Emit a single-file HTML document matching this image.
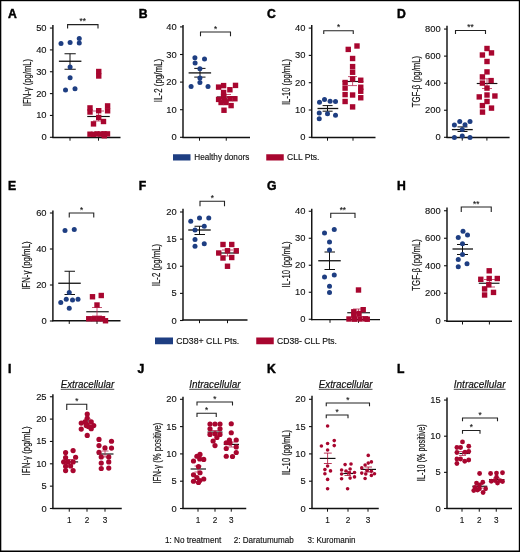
<!DOCTYPE html>
<html><head><meta charset="utf-8"><style>
html,body{margin:0;padding:0;background:#fff;}
body{width:520px;height:552px;overflow:hidden;}
svg{display:block;font-family:"Liberation Sans", sans-serif;will-change:transform;}
</style></head><body>
<svg width="520" height="552" viewBox="0 0 520 552">
<rect x="0" y="0" width="520" height="552" fill="#fff"/>
<line x1="52.9" y1="25" x2="52.9" y2="138.1" stroke="#111111" stroke-width="1.45"/>
<line x1="52.3" y1="137.5" x2="120.5" y2="137.5" stroke="#111111" stroke-width="1.45"/>
<line x1="49.9" y1="137.3" x2="52.9" y2="137.3" stroke="#111111" stroke-width="1.1"/>
<text x="46.6" y="140.3" font-size="9.4" text-anchor="end" font-weight="normal" font-style="normal" fill="#111" stroke="#111" stroke-width="0.12">0</text>
<line x1="49.9" y1="115.45000000000002" x2="52.9" y2="115.45000000000002" stroke="#111111" stroke-width="1.1"/>
<text x="46.6" y="118.45000000000002" font-size="9.4" text-anchor="end" font-weight="normal" font-style="normal" fill="#111" stroke="#111" stroke-width="0.12">10</text>
<line x1="49.9" y1="93.60000000000001" x2="52.9" y2="93.60000000000001" stroke="#111111" stroke-width="1.1"/>
<text x="46.6" y="96.60000000000001" font-size="9.4" text-anchor="end" font-weight="normal" font-style="normal" fill="#111" stroke="#111" stroke-width="0.12">20</text>
<line x1="49.9" y1="71.75000000000001" x2="52.9" y2="71.75000000000001" stroke="#111111" stroke-width="1.1"/>
<text x="46.6" y="74.75000000000001" font-size="9.4" text-anchor="end" font-weight="normal" font-style="normal" fill="#111" stroke="#111" stroke-width="0.12">30</text>
<line x1="49.9" y1="49.900000000000006" x2="52.9" y2="49.900000000000006" stroke="#111111" stroke-width="1.1"/>
<text x="46.6" y="52.900000000000006" font-size="9.4" text-anchor="end" font-weight="normal" font-style="normal" fill="#111" stroke="#111" stroke-width="0.12">40</text>
<line x1="49.9" y1="28.05000000000001" x2="52.9" y2="28.05000000000001" stroke="#111111" stroke-width="1.1"/>
<text x="46.6" y="31.05000000000001" font-size="9.4" text-anchor="end" font-weight="normal" font-style="normal" fill="#111" stroke="#111" stroke-width="0.12">50</text>
<line x1="70" y1="137.5" x2="70" y2="140.7" stroke="#111111" stroke-width="1.0"/>
<line x1="98.5" y1="137.5" x2="98.5" y2="140.7" stroke="#111111" stroke-width="1.0"/>
<text x="0" y="0" font-size="10.4" text-anchor="middle" fill="#111" stroke="#111" stroke-width="0.18" textLength="47.3" lengthAdjust="spacingAndGlyphs" transform="translate(31.3,82.5) rotate(-90)">IFN-γ (pg/mL)</text>
<polyline points="67.6,28.6 67.6,24.6 98,24.6 98,28.6" fill="none" stroke="#222" stroke-width="1.1"/>
<text x="82.8" y="24.1" font-size="8.2" text-anchor="middle" font-weight="normal" font-style="normal" fill="#111" stroke="#111" stroke-width="0.12">**</text>
<line x1="87.25" y1="116.5" x2="109.75" y2="116.5" stroke="#111111" stroke-width="1.15"/>
<line x1="58.9" y1="61.25" x2="81.4" y2="61.25" stroke="#111111" stroke-width="1.3"/>
<line x1="70" y1="53.75" x2="70" y2="69.25" stroke="#111111" stroke-width="1.0"/>
<line x1="64.5" y1="53.75" x2="75.75" y2="53.75" stroke="#111111" stroke-width="1.0"/>
<line x1="64.5" y1="69.25" x2="75.75" y2="69.25" stroke="#111111" stroke-width="1.0"/>
<circle cx="61" cy="43.5" r="2.5" fill="#1e3e82"/>
<circle cx="70.1" cy="42.5" r="2.5" fill="#1e3e82"/>
<circle cx="79.25" cy="38.6" r="2.5" fill="#1e3e82"/>
<circle cx="79.25" cy="43.1" r="2.5" fill="#1e3e82"/>
<circle cx="70.1" cy="67.1" r="2.5" fill="#1e3e82"/>
<circle cx="70.1" cy="77.75" r="2.5" fill="#1e3e82"/>
<circle cx="65.5" cy="90" r="2.5" fill="#1e3e82"/>
<circle cx="75" cy="88.75" r="2.5" fill="#1e3e82"/>
<line x1="98.5" y1="111" x2="98.5" y2="121" stroke="#b52a50" stroke-width="0.8"/>
<line x1="93" y1="111" x2="104" y2="111" stroke="#b52a50" stroke-width="0.8"/>
<line x1="93" y1="121" x2="104" y2="121" stroke="#b52a50" stroke-width="0.8"/>
<g fill="#a8062f"><rect x="96.05" y="68.80" width="5.4" height="5.4"/><rect x="96.05" y="73.30" width="5.4" height="5.4"/><rect x="87.30" y="105.20" width="5.4" height="5.4"/><rect x="87.30" y="109.30" width="5.4" height="5.4"/><rect x="96.00" y="108.00" width="5.4" height="5.4"/><rect x="104.90" y="103.20" width="5.4" height="5.4"/><rect x="104.90" y="108.10" width="5.4" height="5.4"/><rect x="96.00" y="114.80" width="5.4" height="5.4"/><rect x="100.80" y="118.80" width="5.4" height="5.4"/><rect x="90.80" y="121.20" width="5.4" height="5.4"/><rect x="87.30" y="131.50" width="5.4" height="5.4"/><rect x="90.80" y="131.70" width="5.4" height="5.4"/><rect x="94.30" y="131.20" width="5.4" height="5.4"/><rect x="97.80" y="131.40" width="5.4" height="5.4"/><rect x="101.30" y="131.10" width="5.4" height="5.4"/><rect x="104.80" y="131.20" width="5.4" height="5.4"/><rect x="101.60" y="133.10" width="5.4" height="5.4"/></g>
<line x1="183" y1="25" x2="183" y2="138.1" stroke="#111111" stroke-width="1.45"/>
<line x1="182.4" y1="137.5" x2="250" y2="137.5" stroke="#111111" stroke-width="1.45"/>
<line x1="180" y1="137.3" x2="183" y2="137.3" stroke="#111111" stroke-width="1.1"/>
<text x="176.7" y="140.3" font-size="9.4" text-anchor="end" font-weight="normal" font-style="normal" fill="#111" stroke="#111" stroke-width="0.12">0</text>
<line x1="180" y1="109.70000000000002" x2="183" y2="109.70000000000002" stroke="#111111" stroke-width="1.1"/>
<text x="176.7" y="112.70000000000002" font-size="9.4" text-anchor="end" font-weight="normal" font-style="normal" fill="#111" stroke="#111" stroke-width="0.12">10</text>
<line x1="180" y1="82.10000000000002" x2="183" y2="82.10000000000002" stroke="#111111" stroke-width="1.1"/>
<text x="176.7" y="85.10000000000002" font-size="9.4" text-anchor="end" font-weight="normal" font-style="normal" fill="#111" stroke="#111" stroke-width="0.12">20</text>
<line x1="180" y1="54.500000000000014" x2="183" y2="54.500000000000014" stroke="#111111" stroke-width="1.1"/>
<text x="176.7" y="57.500000000000014" font-size="9.4" text-anchor="end" font-weight="normal" font-style="normal" fill="#111" stroke="#111" stroke-width="0.12">30</text>
<line x1="180" y1="26.90000000000002" x2="183" y2="26.90000000000002" stroke="#111111" stroke-width="1.1"/>
<text x="176.7" y="29.90000000000002" font-size="9.4" text-anchor="end" font-weight="normal" font-style="normal" fill="#111" stroke="#111" stroke-width="0.12">40</text>
<line x1="199.5" y1="137.5" x2="199.5" y2="140.7" stroke="#111111" stroke-width="1.0"/>
<line x1="226.25" y1="137.5" x2="226.25" y2="140.7" stroke="#111111" stroke-width="1.0"/>
<text x="0" y="0" font-size="10.4" text-anchor="middle" fill="#111" stroke="#111" stroke-width="0.18" textLength="43.3" lengthAdjust="spacingAndGlyphs" transform="translate(162.05,80.5) rotate(-90)">IL-2 (pg/mL)</text>
<polyline points="200.5,36.3 200.5,32 230.5,32 230.5,36.3" fill="none" stroke="#222" stroke-width="1.1"/>
<text x="215.5" y="31.5" font-size="8.2" text-anchor="middle" font-weight="normal" font-style="normal" fill="#111" stroke="#111" stroke-width="0.12">*</text>
<line x1="217" y1="97" x2="236" y2="97" stroke="#111111" stroke-width="1.15"/>
<line x1="188.6" y1="72.9" x2="211.1" y2="72.9" stroke="#111111" stroke-width="1.3"/>
<line x1="200" y1="68.4" x2="200" y2="77.1" stroke="#111111" stroke-width="1.0"/>
<line x1="194.25" y1="68.4" x2="205.5" y2="68.4" stroke="#111111" stroke-width="1.0"/>
<line x1="194.25" y1="77.1" x2="205.5" y2="77.1" stroke="#111111" stroke-width="1.0"/>
<circle cx="194.9" cy="57.75" r="2.5" fill="#1e3e82"/>
<circle cx="204.5" cy="59" r="2.5" fill="#1e3e82"/>
<circle cx="195.1" cy="62.9" r="2.5" fill="#1e3e82"/>
<circle cx="199.9" cy="68.75" r="2.5" fill="#1e3e82"/>
<circle cx="199.9" cy="78.1" r="2.5" fill="#1e3e82"/>
<circle cx="199.9" cy="82.5" r="2.5" fill="#1e3e82"/>
<circle cx="191.1" cy="86.6" r="2.5" fill="#1e3e82"/>
<circle cx="208" cy="86.6" r="2.5" fill="#1e3e82"/>
<line x1="226" y1="94.5" x2="226" y2="99.5" stroke="#b52a50" stroke-width="0.8"/>
<line x1="221" y1="94.5" x2="231" y2="94.5" stroke="#b52a50" stroke-width="0.8"/>
<line x1="221" y1="99.5" x2="231" y2="99.5" stroke="#b52a50" stroke-width="0.8"/>
<g fill="#a8062f"><rect x="215.90" y="84.40" width="5.4" height="5.4"/><rect x="220.90" y="82.90" width="5.4" height="5.4"/><rect x="232.80" y="82.70" width="5.4" height="5.4"/><rect x="227.20" y="87.05" width="5.4" height="5.4"/><rect x="220.90" y="89.80" width="5.4" height="5.4"/><rect x="220.90" y="93.55" width="5.4" height="5.4"/><rect x="215.90" y="96.70" width="5.4" height="5.4"/><rect x="221.55" y="97.90" width="5.4" height="5.4"/><rect x="227.20" y="96.05" width="5.4" height="5.4"/><rect x="232.20" y="96.05" width="5.4" height="5.4"/><rect x="218.40" y="99.80" width="5.4" height="5.4"/><rect x="223.40" y="99.80" width="5.4" height="5.4"/><rect x="228.40" y="102.90" width="5.4" height="5.4"/><rect x="221.30" y="107.55" width="5.4" height="5.4"/></g>
<line x1="311.75" y1="25" x2="311.75" y2="138.1" stroke="#111111" stroke-width="1.45"/>
<line x1="311.15" y1="137.5" x2="375.5" y2="137.5" stroke="#111111" stroke-width="1.45"/>
<line x1="308.75" y1="137.3" x2="311.75" y2="137.3" stroke="#111111" stroke-width="1.1"/>
<text x="305.45" y="140.3" font-size="9.4" text-anchor="end" font-weight="normal" font-style="normal" fill="#111" stroke="#111" stroke-width="0.12">0</text>
<line x1="308.75" y1="110.00000000000001" x2="311.75" y2="110.00000000000001" stroke="#111111" stroke-width="1.1"/>
<text x="305.45" y="113.00000000000001" font-size="9.4" text-anchor="end" font-weight="normal" font-style="normal" fill="#111" stroke="#111" stroke-width="0.12">10</text>
<line x1="308.75" y1="82.70000000000002" x2="311.75" y2="82.70000000000002" stroke="#111111" stroke-width="1.1"/>
<text x="305.45" y="85.70000000000002" font-size="9.4" text-anchor="end" font-weight="normal" font-style="normal" fill="#111" stroke="#111" stroke-width="0.12">20</text>
<line x1="308.75" y1="55.400000000000006" x2="311.75" y2="55.400000000000006" stroke="#111111" stroke-width="1.1"/>
<text x="305.45" y="58.400000000000006" font-size="9.4" text-anchor="end" font-weight="normal" font-style="normal" fill="#111" stroke="#111" stroke-width="0.12">30</text>
<line x1="308.75" y1="28.10000000000001" x2="311.75" y2="28.10000000000001" stroke="#111111" stroke-width="1.1"/>
<text x="305.45" y="31.10000000000001" font-size="9.4" text-anchor="end" font-weight="normal" font-style="normal" fill="#111" stroke="#111" stroke-width="0.12">40</text>
<line x1="327.5" y1="137.5" x2="327.5" y2="140.7" stroke="#111111" stroke-width="1.0"/>
<line x1="353" y1="137.5" x2="353" y2="140.7" stroke="#111111" stroke-width="1.0"/>
<text x="0" y="0" font-size="10.4" text-anchor="middle" fill="#111" stroke="#111" stroke-width="0.18" textLength="46.05" lengthAdjust="spacingAndGlyphs" transform="translate(290.3,82) rotate(-90)">IL-10 (pg/mL)</text>
<polyline points="323.75,34 323.75,30.75 353.25,30.75 353.25,34" fill="none" stroke="#222" stroke-width="1.1"/>
<text x="338.5" y="30.25" font-size="8.2" text-anchor="middle" font-weight="normal" font-style="normal" fill="#111" stroke="#111" stroke-width="0.12">*</text>
<line x1="342.6" y1="81.5" x2="363.25" y2="81.5" stroke="#111111" stroke-width="1.15"/>
<line x1="317.5" y1="108.5" x2="338.25" y2="108.5" stroke="#111111" stroke-width="1.3"/>
<line x1="327.5" y1="105.6" x2="327.5" y2="111.2" stroke="#111111" stroke-width="1.0"/>
<line x1="322.6" y1="105.6" x2="332.6" y2="105.6" stroke="#111111" stroke-width="1.0"/>
<line x1="322.6" y1="111.2" x2="332.6" y2="111.2" stroke="#111111" stroke-width="1.0"/>
<circle cx="319.5" cy="102.25" r="2.5" fill="#1e3e82"/>
<circle cx="324.5" cy="99.4" r="2.5" fill="#1e3e82"/>
<circle cx="330.1" cy="101.25" r="2.5" fill="#1e3e82"/>
<circle cx="335.5" cy="101.5" r="2.5" fill="#1e3e82"/>
<circle cx="319.25" cy="113" r="2.5" fill="#1e3e82"/>
<circle cx="327.5" cy="113.75" r="2.5" fill="#1e3e82"/>
<circle cx="335.5" cy="115.25" r="2.5" fill="#1e3e82"/>
<circle cx="319.25" cy="118.75" r="2.5" fill="#1e3e82"/>
<line x1="352.6" y1="76.6" x2="352.6" y2="85.6" stroke="#b52a50" stroke-width="0.8"/>
<line x1="348" y1="76.6" x2="357" y2="76.6" stroke="#b52a50" stroke-width="0.8"/>
<line x1="348" y1="85.6" x2="357" y2="85.6" stroke="#b52a50" stroke-width="0.8"/>
<g fill="#a8062f"><rect x="345.55" y="46.70" width="5.4" height="5.4"/><rect x="354.30" y="43.30" width="5.4" height="5.4"/><rect x="349.90" y="55.80" width="5.4" height="5.4"/><rect x="349.90" y="63.90" width="5.4" height="5.4"/><rect x="349.90" y="69.55" width="5.4" height="5.4"/><rect x="349.90" y="76.30" width="5.4" height="5.4"/><rect x="342.40" y="79.80" width="5.4" height="5.4"/><rect x="358.05" y="77.55" width="5.4" height="5.4"/><rect x="342.40" y="85.40" width="5.4" height="5.4"/><rect x="358.05" y="84.55" width="5.4" height="5.4"/><rect x="358.05" y="88.55" width="5.4" height="5.4"/><rect x="342.40" y="91.90" width="5.4" height="5.4"/><rect x="349.90" y="92.30" width="5.4" height="5.4"/><rect x="358.05" y="95.05" width="5.4" height="5.4"/><rect x="342.40" y="98.80" width="5.4" height="5.4"/><rect x="349.90" y="104.20" width="5.4" height="5.4"/></g>
<line x1="447" y1="25.75" x2="447" y2="138.0" stroke="#111111" stroke-width="1.45"/>
<line x1="446.4" y1="137.4" x2="509.6" y2="137.4" stroke="#111111" stroke-width="1.45"/>
<line x1="444" y1="137.3" x2="447" y2="137.3" stroke="#111111" stroke-width="1.1"/>
<text x="440.7" y="140.3" font-size="9.4" text-anchor="end" font-weight="normal" font-style="normal" fill="#111" stroke="#111" stroke-width="0.12">0</text>
<line x1="444" y1="110.24000000000001" x2="447" y2="110.24000000000001" stroke="#111111" stroke-width="1.1"/>
<text x="440.7" y="113.24000000000001" font-size="9.4" text-anchor="end" font-weight="normal" font-style="normal" fill="#111" stroke="#111" stroke-width="0.12">200</text>
<line x1="444" y1="83.18" x2="447" y2="83.18" stroke="#111111" stroke-width="1.1"/>
<text x="440.7" y="86.18" font-size="9.4" text-anchor="end" font-weight="normal" font-style="normal" fill="#111" stroke="#111" stroke-width="0.12">400</text>
<line x1="444" y1="56.120000000000005" x2="447" y2="56.120000000000005" stroke="#111111" stroke-width="1.1"/>
<text x="440.7" y="59.120000000000005" font-size="9.4" text-anchor="end" font-weight="normal" font-style="normal" fill="#111" stroke="#111" stroke-width="0.12">600</text>
<line x1="444" y1="29.060000000000002" x2="447" y2="29.060000000000002" stroke="#111111" stroke-width="1.1"/>
<text x="440.7" y="32.06" font-size="9.4" text-anchor="end" font-weight="normal" font-style="normal" fill="#111" stroke="#111" stroke-width="0.12">800</text>
<line x1="462.25" y1="137.4" x2="462.25" y2="140.6" stroke="#111111" stroke-width="1.0"/>
<line x1="486.9" y1="137.4" x2="486.9" y2="140.6" stroke="#111111" stroke-width="1.0"/>
<text x="0" y="0" font-size="10.4" text-anchor="middle" fill="#111" stroke="#111" stroke-width="0.18" textLength="51.55" lengthAdjust="spacingAndGlyphs" transform="translate(420.3,81.6) rotate(-90)">TGF-β (pg/mL)</text>
<polyline points="455.5,34 455.5,30.5 485.5,30.5 485.5,34" fill="none" stroke="#222" stroke-width="1.1"/>
<text x="470.5" y="30.0" font-size="8.2" text-anchor="middle" font-weight="normal" font-style="normal" fill="#111" stroke="#111" stroke-width="0.12">**</text>
<line x1="476.75" y1="83.5" x2="497.4" y2="83.5" stroke="#111111" stroke-width="1.15"/>
<line x1="451.9" y1="129.6" x2="472.75" y2="129.6" stroke="#111111" stroke-width="1.3"/>
<line x1="462.25" y1="126.9" x2="462.25" y2="131.5" stroke="#111111" stroke-width="1.0"/>
<line x1="457.5" y1="126.9" x2="467.5" y2="126.9" stroke="#111111" stroke-width="1.0"/>
<line x1="457.5" y1="131.5" x2="467.5" y2="131.5" stroke="#111111" stroke-width="1.0"/>
<circle cx="454.4" cy="125" r="2.5" fill="#1e3e82"/>
<circle cx="459.75" cy="121.5" r="2.5" fill="#1e3e82"/>
<circle cx="465" cy="124.75" r="2.5" fill="#1e3e82"/>
<circle cx="470" cy="121.5" r="2.5" fill="#1e3e82"/>
<circle cx="462.25" cy="129.6" r="2.5" fill="#1e3e82"/>
<circle cx="462.25" cy="136" r="2.5" fill="#1e3e82"/>
<circle cx="454.4" cy="137.5" r="2.5" fill="#1e3e82"/>
<circle cx="470" cy="137.5" r="2.5" fill="#1e3e82"/>
<line x1="487" y1="78.75" x2="487" y2="88.5" stroke="#b52a50" stroke-width="0.8"/>
<line x1="482" y1="78.75" x2="492" y2="78.75" stroke="#b52a50" stroke-width="0.8"/>
<line x1="482" y1="88.5" x2="492" y2="88.5" stroke="#b52a50" stroke-width="0.8"/>
<g fill="#a8062f"><rect x="484.30" y="45.80" width="5.4" height="5.4"/><rect x="488.80" y="50.20" width="5.4" height="5.4"/><rect x="479.70" y="52.30" width="5.4" height="5.4"/><rect x="484.30" y="58.80" width="5.4" height="5.4"/><rect x="484.30" y="69.20" width="5.4" height="5.4"/><rect x="479.70" y="74.20" width="5.4" height="5.4"/><rect x="488.40" y="77.90" width="5.4" height="5.4"/><rect x="479.70" y="80.40" width="5.4" height="5.4"/><rect x="484.30" y="85.40" width="5.4" height="5.4"/><rect x="476.55" y="94.20" width="5.4" height="5.4"/><rect x="484.30" y="92.30" width="5.4" height="5.4"/><rect x="492.20" y="93.30" width="5.4" height="5.4"/><rect x="484.30" y="98.80" width="5.4" height="5.4"/><rect x="479.70" y="102.90" width="5.4" height="5.4"/><rect x="488.80" y="105.40" width="5.4" height="5.4"/><rect x="479.80" y="109.40" width="5.4" height="5.4"/></g>
<line x1="52.9" y1="210.5" x2="52.9" y2="321.35" stroke="#111111" stroke-width="1.45"/>
<line x1="52.3" y1="320.75" x2="120.5" y2="320.75" stroke="#111111" stroke-width="1.45"/>
<line x1="49.9" y1="321.0" x2="52.9" y2="321.0" stroke="#111111" stroke-width="1.1"/>
<text x="46.6" y="324.0" font-size="9.4" text-anchor="end" font-weight="normal" font-style="normal" fill="#111" stroke="#111" stroke-width="0.12">0</text>
<line x1="49.9" y1="285.0" x2="52.9" y2="285.0" stroke="#111111" stroke-width="1.1"/>
<text x="46.6" y="288.0" font-size="9.4" text-anchor="end" font-weight="normal" font-style="normal" fill="#111" stroke="#111" stroke-width="0.12">20</text>
<line x1="49.9" y1="249.0" x2="52.9" y2="249.0" stroke="#111111" stroke-width="1.1"/>
<text x="46.6" y="252.0" font-size="9.4" text-anchor="end" font-weight="normal" font-style="normal" fill="#111" stroke="#111" stroke-width="0.12">40</text>
<line x1="49.9" y1="213.0" x2="52.9" y2="213.0" stroke="#111111" stroke-width="1.1"/>
<text x="46.6" y="216.0" font-size="9.4" text-anchor="end" font-weight="normal" font-style="normal" fill="#111" stroke="#111" stroke-width="0.12">60</text>
<line x1="69.25" y1="320.75" x2="69.25" y2="323.95" stroke="#111111" stroke-width="1.0"/>
<line x1="97" y1="320.75" x2="97" y2="323.95" stroke="#111111" stroke-width="1.0"/>
<text x="0" y="0" font-size="10.4" text-anchor="middle" fill="#111" stroke="#111" stroke-width="0.18" textLength="48.55" lengthAdjust="spacingAndGlyphs" transform="translate(30.3,265.6) rotate(-90)">IFN-γ (pg/mL)</text>
<polyline points="69.25,217.5 69.25,213 93.75,213 93.75,217.5" fill="none" stroke="#222" stroke-width="1.1"/>
<text x="81.5" y="212.5" font-size="8.2" text-anchor="middle" font-weight="normal" font-style="normal" fill="#111" stroke="#111" stroke-width="0.12">*</text>
<line x1="86.25" y1="311.75" x2="108.75" y2="311.75" stroke="#111111" stroke-width="1.15"/>
<line x1="58.25" y1="283.25" x2="80.75" y2="283.25" stroke="#111111" stroke-width="1.3"/>
<line x1="69.25" y1="271.25" x2="69.25" y2="294.5" stroke="#111111" stroke-width="1.0"/>
<line x1="64.5" y1="271.25" x2="75" y2="271.25" stroke="#111111" stroke-width="1.0"/>
<line x1="64.5" y1="294.5" x2="75" y2="294.5" stroke="#111111" stroke-width="1.0"/>
<circle cx="65" cy="230.5" r="2.5" fill="#1e3e82"/>
<circle cx="74.25" cy="229.5" r="2.5" fill="#1e3e82"/>
<circle cx="69.25" cy="292.5" r="2.5" fill="#1e3e82"/>
<circle cx="60.75" cy="302.5" r="2.5" fill="#1e3e82"/>
<circle cx="66.25" cy="299.25" r="2.5" fill="#1e3e82"/>
<circle cx="72.5" cy="300" r="2.5" fill="#1e3e82"/>
<circle cx="78" cy="299.25" r="2.5" fill="#1e3e82"/>
<circle cx="69.25" cy="308.25" r="2.5" fill="#1e3e82"/>
<line x1="97" y1="307.5" x2="97" y2="316" stroke="#b52a50" stroke-width="0.8"/>
<line x1="92" y1="307.5" x2="102" y2="307.5" stroke="#b52a50" stroke-width="0.8"/>
<line x1="92" y1="316" x2="102" y2="316" stroke="#b52a50" stroke-width="0.8"/>
<g fill="#a8062f"><rect x="89.80" y="294.05" width="5.4" height="5.4"/><rect x="98.55" y="292.80" width="5.4" height="5.4"/><rect x="94.30" y="302.30" width="5.4" height="5.4"/><rect x="86.05" y="316.05" width="5.4" height="5.4"/><rect x="91.05" y="316.05" width="5.4" height="5.4"/><rect x="96.05" y="316.05" width="5.4" height="5.4"/><rect x="99.80" y="316.05" width="5.4" height="5.4"/><rect x="102.80" y="318.05" width="5.4" height="5.4"/></g>
<line x1="183" y1="208.75" x2="183" y2="320.6" stroke="#111111" stroke-width="1.45"/>
<line x1="182.4" y1="320" x2="247.5" y2="320" stroke="#111111" stroke-width="1.45"/>
<line x1="180" y1="320.5" x2="183" y2="320.5" stroke="#111111" stroke-width="1.1"/>
<text x="176.7" y="323.5" font-size="9.4" text-anchor="end" font-weight="normal" font-style="normal" fill="#111" stroke="#111" stroke-width="0.12">0</text>
<line x1="180" y1="293.375" x2="183" y2="293.375" stroke="#111111" stroke-width="1.1"/>
<text x="176.7" y="296.375" font-size="9.4" text-anchor="end" font-weight="normal" font-style="normal" fill="#111" stroke="#111" stroke-width="0.12">5</text>
<line x1="180" y1="266.25" x2="183" y2="266.25" stroke="#111111" stroke-width="1.1"/>
<text x="176.7" y="269.25" font-size="9.4" text-anchor="end" font-weight="normal" font-style="normal" fill="#111" stroke="#111" stroke-width="0.12">10</text>
<line x1="180" y1="239.125" x2="183" y2="239.125" stroke="#111111" stroke-width="1.1"/>
<text x="176.7" y="242.125" font-size="9.4" text-anchor="end" font-weight="normal" font-style="normal" fill="#111" stroke="#111" stroke-width="0.12">15</text>
<line x1="180" y1="212.0" x2="183" y2="212.0" stroke="#111111" stroke-width="1.1"/>
<text x="176.7" y="215.0" font-size="9.4" text-anchor="end" font-weight="normal" font-style="normal" fill="#111" stroke="#111" stroke-width="0.12">20</text>
<line x1="199.5" y1="320" x2="199.5" y2="323.2" stroke="#111111" stroke-width="1.0"/>
<line x1="227.5" y1="320" x2="227.5" y2="323.2" stroke="#111111" stroke-width="1.0"/>
<text x="0" y="0" font-size="10.4" text-anchor="middle" fill="#111" stroke="#111" stroke-width="0.18" textLength="42.3" lengthAdjust="spacingAndGlyphs" transform="translate(160.3,265) rotate(-90)">IL-2 (pg/mL)</text>
<polyline points="200,206.25 200,201.25 224.5,201.25 224.5,206.25" fill="none" stroke="#222" stroke-width="1.1"/>
<text x="212.25" y="200.75" font-size="8.2" text-anchor="middle" font-weight="normal" font-style="normal" fill="#111" stroke="#111" stroke-width="0.12">*</text>
<line x1="216.25" y1="253" x2="238.75" y2="253" stroke="#111111" stroke-width="1.15"/>
<line x1="188.25" y1="230" x2="210.75" y2="230" stroke="#111111" stroke-width="1.3"/>
<line x1="199.5" y1="226.25" x2="199.5" y2="234.5" stroke="#111111" stroke-width="1.0"/>
<line x1="194.5" y1="226.25" x2="205" y2="226.25" stroke="#111111" stroke-width="1.0"/>
<line x1="194.5" y1="234.5" x2="205" y2="234.5" stroke="#111111" stroke-width="1.0"/>
<circle cx="190.75" cy="221.25" r="2.5" fill="#1e3e82"/>
<circle cx="199.5" cy="218" r="2.5" fill="#1e3e82"/>
<circle cx="208.75" cy="218" r="2.5" fill="#1e3e82"/>
<circle cx="204.25" cy="226.25" r="2.5" fill="#1e3e82"/>
<circle cx="195" cy="230" r="2.5" fill="#1e3e82"/>
<circle cx="195" cy="239.5" r="2.5" fill="#1e3e82"/>
<circle cx="204.25" cy="243.75" r="2.5" fill="#1e3e82"/>
<circle cx="195" cy="246.25" r="2.5" fill="#1e3e82"/>
<line x1="227.5" y1="250" x2="227.5" y2="256" stroke="#b52a50" stroke-width="0.8"/>
<line x1="222" y1="250" x2="233" y2="250" stroke="#b52a50" stroke-width="0.8"/>
<line x1="222" y1="256" x2="233" y2="256" stroke="#b52a50" stroke-width="0.8"/>
<g fill="#a8062f"><rect x="220.30" y="241.80" width="5.4" height="5.4"/><rect x="229.05" y="241.80" width="5.4" height="5.4"/><rect x="216.05" y="250.30" width="5.4" height="5.4"/><rect x="224.80" y="248.05" width="5.4" height="5.4"/><rect x="233.55" y="248.05" width="5.4" height="5.4"/><rect x="220.30" y="255.30" width="5.4" height="5.4"/><rect x="229.05" y="254.80" width="5.4" height="5.4"/><rect x="224.80" y="263.55" width="5.4" height="5.4"/></g>
<line x1="311.75" y1="208.75" x2="311.75" y2="320.20000000000005" stroke="#111111" stroke-width="1.45"/>
<line x1="311.15" y1="319.6" x2="380" y2="319.6" stroke="#111111" stroke-width="1.45"/>
<line x1="308.75" y1="319.25" x2="311.75" y2="319.25" stroke="#111111" stroke-width="1.1"/>
<text x="305.45" y="322.25" font-size="9.4" text-anchor="end" font-weight="normal" font-style="normal" fill="#111" stroke="#111" stroke-width="0.12">0</text>
<line x1="308.75" y1="292.25" x2="311.75" y2="292.25" stroke="#111111" stroke-width="1.1"/>
<text x="305.45" y="295.25" font-size="9.4" text-anchor="end" font-weight="normal" font-style="normal" fill="#111" stroke="#111" stroke-width="0.12">10</text>
<line x1="308.75" y1="265.25" x2="311.75" y2="265.25" stroke="#111111" stroke-width="1.1"/>
<text x="305.45" y="268.25" font-size="9.4" text-anchor="end" font-weight="normal" font-style="normal" fill="#111" stroke="#111" stroke-width="0.12">20</text>
<line x1="308.75" y1="238.25" x2="311.75" y2="238.25" stroke="#111111" stroke-width="1.1"/>
<text x="305.45" y="241.25" font-size="9.4" text-anchor="end" font-weight="normal" font-style="normal" fill="#111" stroke="#111" stroke-width="0.12">30</text>
<line x1="308.75" y1="211.25" x2="311.75" y2="211.25" stroke="#111111" stroke-width="1.1"/>
<text x="305.45" y="214.25" font-size="9.4" text-anchor="end" font-weight="normal" font-style="normal" fill="#111" stroke="#111" stroke-width="0.12">40</text>
<line x1="330" y1="319.6" x2="330" y2="322.8" stroke="#111111" stroke-width="1.0"/>
<line x1="358.5" y1="319.6" x2="358.5" y2="322.8" stroke="#111111" stroke-width="1.0"/>
<text x="0" y="0" font-size="10.4" text-anchor="middle" fill="#111" stroke="#111" stroke-width="0.18" textLength="46.05" lengthAdjust="spacingAndGlyphs" transform="translate(290.3,264.4) rotate(-90)">IL-10 (pg/mL)</text>
<polyline points="330.75,218 330.75,213.25 355,213.25 355,218" fill="none" stroke="#222" stroke-width="1.1"/>
<text x="342.875" y="212.75" font-size="8.2" text-anchor="middle" font-weight="normal" font-style="normal" fill="#111" stroke="#111" stroke-width="0.12">**</text>
<line x1="347.25" y1="312.75" x2="370" y2="312.75" stroke="#111111" stroke-width="1.15"/>
<line x1="318.25" y1="260.75" x2="340.75" y2="260.75" stroke="#111111" stroke-width="1.3"/>
<line x1="329.5" y1="252" x2="329.5" y2="269.5" stroke="#111111" stroke-width="1.0"/>
<line x1="324.5" y1="252" x2="335" y2="252" stroke="#111111" stroke-width="1.0"/>
<line x1="324.5" y1="269.5" x2="335" y2="269.5" stroke="#111111" stroke-width="1.0"/>
<circle cx="324.5" cy="233" r="2.5" fill="#1e3e82"/>
<circle cx="334.25" cy="229.5" r="2.5" fill="#1e3e82"/>
<circle cx="329.5" cy="242" r="2.5" fill="#1e3e82"/>
<circle cx="329.5" cy="250" r="2.5" fill="#1e3e82"/>
<circle cx="324.5" cy="277" r="2.5" fill="#1e3e82"/>
<circle cx="334.25" cy="275" r="2.5" fill="#1e3e82"/>
<circle cx="329.5" cy="286.25" r="2.5" fill="#1e3e82"/>
<circle cx="329.5" cy="292.5" r="2.5" fill="#1e3e82"/>
<line x1="358.5" y1="309" x2="358.5" y2="316.5" stroke="#b52a50" stroke-width="0.8"/>
<line x1="353" y1="309" x2="364" y2="309" stroke="#b52a50" stroke-width="0.8"/>
<line x1="353" y1="316.5" x2="364" y2="316.5" stroke="#b52a50" stroke-width="0.8"/>
<g fill="#a8062f"><rect x="355.80" y="287.30" width="5.4" height="5.4"/><rect x="360.50" y="307.00" width="5.4" height="5.4"/><rect x="351.10" y="309.10" width="5.4" height="5.4"/><rect x="351.10" y="312.30" width="5.4" height="5.4"/><rect x="356.30" y="310.80" width="5.4" height="5.4"/><rect x="346.30" y="316.30" width="5.4" height="5.4"/><rect x="351.80" y="316.50" width="5.4" height="5.4"/><rect x="357.30" y="316.30" width="5.4" height="5.4"/><rect x="362.80" y="316.10" width="5.4" height="5.4"/><rect x="364.55" y="316.50" width="5.4" height="5.4"/></g>
<line x1="447" y1="207.5" x2="447" y2="321.90000000000003" stroke="#111111" stroke-width="1.45"/>
<line x1="446.4" y1="321.3" x2="512" y2="321.3" stroke="#111111" stroke-width="1.45"/>
<line x1="444" y1="320.75" x2="447" y2="320.75" stroke="#111111" stroke-width="1.1"/>
<text x="440.7" y="323.75" font-size="9.4" text-anchor="end" font-weight="normal" font-style="normal" fill="#111" stroke="#111" stroke-width="0.12">0</text>
<line x1="444" y1="293.25" x2="447" y2="293.25" stroke="#111111" stroke-width="1.1"/>
<text x="440.7" y="296.25" font-size="9.4" text-anchor="end" font-weight="normal" font-style="normal" fill="#111" stroke="#111" stroke-width="0.12">200</text>
<line x1="444" y1="265.75" x2="447" y2="265.75" stroke="#111111" stroke-width="1.1"/>
<text x="440.7" y="268.75" font-size="9.4" text-anchor="end" font-weight="normal" font-style="normal" fill="#111" stroke="#111" stroke-width="0.12">400</text>
<line x1="444" y1="238.25" x2="447" y2="238.25" stroke="#111111" stroke-width="1.1"/>
<text x="440.7" y="241.25" font-size="9.4" text-anchor="end" font-weight="normal" font-style="normal" fill="#111" stroke="#111" stroke-width="0.12">600</text>
<line x1="444" y1="210.75" x2="447" y2="210.75" stroke="#111111" stroke-width="1.1"/>
<text x="440.7" y="213.75" font-size="9.4" text-anchor="end" font-weight="normal" font-style="normal" fill="#111" stroke="#111" stroke-width="0.12">800</text>
<line x1="462.5" y1="321.3" x2="462.5" y2="324.5" stroke="#111111" stroke-width="1.0"/>
<line x1="489.4" y1="321.3" x2="489.4" y2="324.5" stroke="#111111" stroke-width="1.0"/>
<text x="0" y="0" font-size="10.4" text-anchor="middle" fill="#111" stroke="#111" stroke-width="0.18" textLength="51.55" lengthAdjust="spacingAndGlyphs" transform="translate(420.3,264.9) rotate(-90)">TGF-β (pg/mL)</text>
<polyline points="461.25,212 461.25,207 491.25,207 491.25,212" fill="none" stroke="#222" stroke-width="1.1"/>
<text x="476.25" y="206.5" font-size="8.2" text-anchor="middle" font-weight="normal" font-style="normal" fill="#111" stroke="#111" stroke-width="0.12">**</text>
<line x1="478.75" y1="283.25" x2="499.5" y2="283.25" stroke="#111111" stroke-width="1.15"/>
<line x1="452.5" y1="249" x2="473" y2="249" stroke="#111111" stroke-width="1.3"/>
<line x1="462.5" y1="244.5" x2="462.5" y2="254.5" stroke="#111111" stroke-width="1.0"/>
<line x1="457" y1="244.5" x2="468" y2="244.5" stroke="#111111" stroke-width="1.0"/>
<line x1="457" y1="254.5" x2="468" y2="254.5" stroke="#111111" stroke-width="1.0"/>
<circle cx="463" cy="231.25" r="2.5" fill="#1e3e82"/>
<circle cx="458.25" cy="237.5" r="2.5" fill="#1e3e82"/>
<circle cx="467.5" cy="235" r="2.5" fill="#1e3e82"/>
<circle cx="462.5" cy="243.75" r="2.5" fill="#1e3e82"/>
<circle cx="462.5" cy="254.5" r="2.5" fill="#1e3e82"/>
<circle cx="458.25" cy="259.5" r="2.5" fill="#1e3e82"/>
<circle cx="467" cy="263.75" r="2.5" fill="#1e3e82"/>
<circle cx="458.25" cy="266.75" r="2.5" fill="#1e3e82"/>
<line x1="489.5" y1="279.5" x2="489.5" y2="287" stroke="#b52a50" stroke-width="0.8"/>
<line x1="484" y1="279.5" x2="495" y2="279.5" stroke="#b52a50" stroke-width="0.8"/>
<line x1="484" y1="287" x2="495" y2="287" stroke="#b52a50" stroke-width="0.8"/>
<g fill="#a8062f"><rect x="486.50" y="268.10" width="5.4" height="5.4"/><rect x="478.10" y="276.60" width="5.4" height="5.4"/><rect x="486.50" y="275.80" width="5.4" height="5.4"/><rect x="494.60" y="275.80" width="5.4" height="5.4"/><rect x="486.10" y="282.00" width="5.4" height="5.4"/><rect x="481.90" y="286.20" width="5.4" height="5.4"/><rect x="490.80" y="289.70" width="5.4" height="5.4"/><rect x="481.90" y="292.30" width="5.4" height="5.4"/></g>
<line x1="52.9" y1="394.25" x2="52.9" y2="509.1" stroke="#111111" stroke-width="1.45"/>
<line x1="52.3" y1="508.5" x2="121.75" y2="508.5" stroke="#111111" stroke-width="1.45"/>
<line x1="49.9" y1="508.5" x2="52.9" y2="508.5" stroke="#111111" stroke-width="1.1"/>
<text x="46.6" y="511.5" font-size="9.4" text-anchor="end" font-weight="normal" font-style="normal" fill="#111" stroke="#111" stroke-width="0.12">0</text>
<line x1="49.9" y1="486.15" x2="52.9" y2="486.15" stroke="#111111" stroke-width="1.1"/>
<text x="46.6" y="489.15" font-size="9.4" text-anchor="end" font-weight="normal" font-style="normal" fill="#111" stroke="#111" stroke-width="0.12">5</text>
<line x1="49.9" y1="463.8" x2="52.9" y2="463.8" stroke="#111111" stroke-width="1.1"/>
<text x="46.6" y="466.8" font-size="9.4" text-anchor="end" font-weight="normal" font-style="normal" fill="#111" stroke="#111" stroke-width="0.12">10</text>
<line x1="49.9" y1="441.45" x2="52.9" y2="441.45" stroke="#111111" stroke-width="1.1"/>
<text x="46.6" y="444.45" font-size="9.4" text-anchor="end" font-weight="normal" font-style="normal" fill="#111" stroke="#111" stroke-width="0.12">15</text>
<line x1="49.9" y1="419.1" x2="52.9" y2="419.1" stroke="#111111" stroke-width="1.1"/>
<text x="46.6" y="422.1" font-size="9.4" text-anchor="end" font-weight="normal" font-style="normal" fill="#111" stroke="#111" stroke-width="0.12">20</text>
<line x1="49.9" y1="396.75" x2="52.9" y2="396.75" stroke="#111111" stroke-width="1.1"/>
<text x="46.6" y="399.75" font-size="9.4" text-anchor="end" font-weight="normal" font-style="normal" fill="#111" stroke="#111" stroke-width="0.12">25</text>
<line x1="69.25" y1="508.5" x2="69.25" y2="511.7" stroke="#111111" stroke-width="1.0"/>
<line x1="87" y1="508.5" x2="87" y2="511.7" stroke="#111111" stroke-width="1.0"/>
<line x1="105" y1="508.5" x2="105" y2="511.7" stroke="#111111" stroke-width="1.0"/>
<text x="69.25" y="522.7" font-size="8.2" text-anchor="middle" font-weight="normal" font-style="normal" fill="#111" stroke="#111" stroke-width="0.12">1</text>
<text x="87" y="522.7" font-size="8.2" text-anchor="middle" font-weight="normal" font-style="normal" fill="#111" stroke="#111" stroke-width="0.12">2</text>
<text x="105" y="522.7" font-size="8.2" text-anchor="middle" font-weight="normal" font-style="normal" fill="#111" stroke="#111" stroke-width="0.12">3</text>
<text x="0" y="0" font-size="10.4" text-anchor="middle" fill="#111" stroke="#111" stroke-width="0.18" textLength="49.05" lengthAdjust="spacingAndGlyphs" transform="translate(30.3,450.9) rotate(-90)">IFN-γ (pg/mL)</text>
<polyline points="66.75,410 66.75,404.25 86.75,404.25 86.75,410" fill="none" stroke="#222" stroke-width="1.1"/>
<text x="76.75" y="403.75" font-size="8.2" text-anchor="middle" font-weight="normal" font-style="normal" fill="#111" stroke="#111" stroke-width="0.12">*</text>
<line x1="61.25" y1="461.9" x2="78.1" y2="461.9" stroke="#111111" stroke-width="1.15"/>
<line x1="84" y1="421" x2="91" y2="421" stroke="#111111" stroke-width="1.15"/>
<line x1="96.9" y1="454" x2="113.5" y2="454" stroke="#111111" stroke-width="1.15"/>
<line x1="69.25" y1="459.5" x2="69.25" y2="464.3" stroke="#b52a50" stroke-width="0.8"/>
<line x1="66" y1="459.5" x2="73" y2="459.5" stroke="#b52a50" stroke-width="0.8"/>
<line x1="66" y1="464.3" x2="73" y2="464.3" stroke="#b52a50" stroke-width="0.8"/>
<line x1="87.25" y1="419" x2="87.25" y2="423" stroke="#b52a50" stroke-width="0.8"/>
<line x1="84" y1="419" x2="91" y2="419" stroke="#b52a50" stroke-width="0.8"/>
<line x1="84" y1="423" x2="91" y2="423" stroke="#b52a50" stroke-width="0.8"/>
<line x1="105" y1="451" x2="105" y2="457" stroke="#b52a50" stroke-width="0.8"/>
<line x1="101.5" y1="451" x2="108.5" y2="451" stroke="#b52a50" stroke-width="0.8"/>
<line x1="101.5" y1="457" x2="108.5" y2="457" stroke="#b52a50" stroke-width="0.8"/>
<g fill="#a8062f"><circle cx="87.25" cy="414" r="2.6"/><circle cx="87.25" cy="418.1" r="2.6"/><circle cx="81.25" cy="423.1" r="2.6"/><circle cx="85" cy="421.9" r="2.6"/><circle cx="91.25" cy="421.9" r="2.6"/><circle cx="93.75" cy="425.6" r="2.6"/><circle cx="86.25" cy="425.6" r="2.6"/><circle cx="81.25" cy="429.1" r="2.6"/><circle cx="91.25" cy="428.75" r="2.6"/><circle cx="87.25" cy="435.4" r="2.6"/><circle cx="88.5" cy="426.5" r="2.6"/><circle cx="86.5" cy="424" r="2.6"/><circle cx="90" cy="427" r="2.6"/><circle cx="99" cy="439.4" r="2.6"/><circle cx="111.5" cy="441.25" r="2.6"/><circle cx="99" cy="445.6" r="2.6"/><circle cx="105" cy="447.9" r="2.6"/><circle cx="111.5" cy="448.1" r="2.6"/><circle cx="99" cy="452.25" r="2.6"/><circle cx="101.25" cy="456.9" r="2.6"/><circle cx="108.75" cy="456.9" r="2.6"/><circle cx="101.25" cy="463.1" r="2.6"/><circle cx="108.75" cy="461.9" r="2.6"/><circle cx="101.25" cy="468.5" r="2.6"/><circle cx="108.75" cy="468.1" r="2.6"/><circle cx="73.1" cy="450.6" r="2.6"/><circle cx="65.6" cy="452.5" r="2.6"/><circle cx="65.6" cy="457.5" r="2.6"/><circle cx="75.6" cy="457.25" r="2.6"/><circle cx="63.75" cy="461.9" r="2.6"/><circle cx="68.1" cy="461.9" r="2.6"/><circle cx="73.1" cy="461.9" r="2.6"/><circle cx="65.6" cy="466.25" r="2.6"/><circle cx="70.6" cy="466" r="2.6"/><circle cx="65.6" cy="470.6" r="2.6"/><circle cx="73.1" cy="470.6" r="2.6"/></g>
<text x="87.5" y="387.9" font-size="10.6" text-anchor="middle" font-weight="normal" font-style="italic" fill="#111" stroke="#111" stroke-width="0.2" textLength="53.5" lengthAdjust="spacingAndGlyphs">Extracellular</text>
<line x1="60.75" y1="389.3" x2="114.25" y2="389.3" stroke="#111" stroke-width="0.8"/>
<line x1="183" y1="396.75" x2="183" y2="509.1" stroke="#111111" stroke-width="1.45"/>
<line x1="182.4" y1="508.5" x2="246.25" y2="508.5" stroke="#111111" stroke-width="1.45"/>
<line x1="180" y1="508.5" x2="183" y2="508.5" stroke="#111111" stroke-width="1.1"/>
<text x="176.7" y="511.5" font-size="9.4" text-anchor="end" font-weight="normal" font-style="normal" fill="#111" stroke="#111" stroke-width="0.12">0</text>
<line x1="180" y1="481.2" x2="183" y2="481.2" stroke="#111111" stroke-width="1.1"/>
<text x="176.7" y="484.2" font-size="9.4" text-anchor="end" font-weight="normal" font-style="normal" fill="#111" stroke="#111" stroke-width="0.12">5</text>
<line x1="180" y1="453.9" x2="183" y2="453.9" stroke="#111111" stroke-width="1.1"/>
<text x="176.7" y="456.9" font-size="9.4" text-anchor="end" font-weight="normal" font-style="normal" fill="#111" stroke="#111" stroke-width="0.12">10</text>
<line x1="180" y1="426.6" x2="183" y2="426.6" stroke="#111111" stroke-width="1.1"/>
<text x="176.7" y="429.6" font-size="9.4" text-anchor="end" font-weight="normal" font-style="normal" fill="#111" stroke="#111" stroke-width="0.12">15</text>
<line x1="180" y1="399.3" x2="183" y2="399.3" stroke="#111111" stroke-width="1.1"/>
<text x="176.7" y="402.3" font-size="9.4" text-anchor="end" font-weight="normal" font-style="normal" fill="#111" stroke="#111" stroke-width="0.12">20</text>
<line x1="198" y1="508.5" x2="198" y2="511.7" stroke="#111111" stroke-width="1.0"/>
<line x1="215" y1="508.5" x2="215" y2="511.7" stroke="#111111" stroke-width="1.0"/>
<line x1="231.25" y1="508.5" x2="231.25" y2="511.7" stroke="#111111" stroke-width="1.0"/>
<text x="198" y="522.7" font-size="8.2" text-anchor="middle" font-weight="normal" font-style="normal" fill="#111" stroke="#111" stroke-width="0.12">1</text>
<text x="215" y="522.7" font-size="8.2" text-anchor="middle" font-weight="normal" font-style="normal" fill="#111" stroke="#111" stroke-width="0.12">2</text>
<text x="231.25" y="522.7" font-size="8.2" text-anchor="middle" font-weight="normal" font-style="normal" fill="#111" stroke="#111" stroke-width="0.12">3</text>
<text x="0" y="0" font-size="10.4" text-anchor="middle" fill="#111" stroke="#111" stroke-width="0.18" textLength="61.05" lengthAdjust="spacingAndGlyphs" transform="translate(161.3,453.1) rotate(-90)">IFN-γ (% positive)</text>
<polyline points="197,405.5 197,402 232.5,402 232.5,405.5" fill="none" stroke="#222" stroke-width="1.1"/>
<text x="214.75" y="401.5" font-size="8.2" text-anchor="middle" font-weight="normal" font-style="normal" fill="#111" stroke="#111" stroke-width="0.12">*</text>
<polyline points="197,417 197,413.25 216.25,413.25 216.25,417" fill="none" stroke="#222" stroke-width="1.1"/>
<text x="206.625" y="412.75" font-size="8.2" text-anchor="middle" font-weight="normal" font-style="normal" fill="#111" stroke="#111" stroke-width="0.12">*</text>
<line x1="190.6" y1="469" x2="206" y2="469" stroke="#111111" stroke-width="1.15"/>
<line x1="207.5" y1="432.1" x2="222.5" y2="432.1" stroke="#111111" stroke-width="1.15"/>
<line x1="223.75" y1="444.4" x2="239" y2="444.4" stroke="#111111" stroke-width="1.15"/>
<line x1="198" y1="466" x2="198" y2="472" stroke="#b52a50" stroke-width="0.8"/>
<line x1="194.5" y1="466" x2="201.5" y2="466" stroke="#b52a50" stroke-width="0.8"/>
<line x1="194.5" y1="472" x2="201.5" y2="472" stroke="#b52a50" stroke-width="0.8"/>
<line x1="215" y1="430.5" x2="215" y2="434" stroke="#b52a50" stroke-width="0.8"/>
<line x1="211.5" y1="430.5" x2="218.5" y2="430.5" stroke="#b52a50" stroke-width="0.8"/>
<line x1="211.5" y1="434" x2="218.5" y2="434" stroke="#b52a50" stroke-width="0.8"/>
<line x1="231.25" y1="442" x2="231.25" y2="447" stroke="#b52a50" stroke-width="0.8"/>
<line x1="228" y1="442" x2="235" y2="442" stroke="#b52a50" stroke-width="0.8"/>
<line x1="228" y1="447" x2="235" y2="447" stroke="#b52a50" stroke-width="0.8"/>
<g fill="#a8062f"><circle cx="210" cy="424" r="2.6"/><circle cx="215" cy="424" r="2.6"/><circle cx="220" cy="424" r="2.6"/><circle cx="210" cy="428.75" r="2.6"/><circle cx="220" cy="428.75" r="2.6"/><circle cx="210" cy="434.4" r="2.6"/><circle cx="220" cy="434.4" r="2.6"/><circle cx="215" cy="433.8" r="2.6"/><circle cx="216.9" cy="437.5" r="2.6"/><circle cx="213.1" cy="441" r="2.6"/><circle cx="215" cy="445.6" r="2.6"/><circle cx="231.25" cy="423.75" r="2.6"/><circle cx="231.25" cy="432.75" r="2.6"/><circle cx="236.25" cy="440" r="2.6"/><circle cx="229.4" cy="440" r="2.6"/><circle cx="226.25" cy="442.75" r="2.6"/><circle cx="230" cy="443.1" r="2.6"/><circle cx="236.25" cy="446.9" r="2.6"/><circle cx="226.25" cy="448.5" r="2.6"/><circle cx="236.25" cy="452.5" r="2.6"/><circle cx="226.25" cy="456.25" r="2.6"/><circle cx="232.5" cy="456.5" r="2.6"/><circle cx="200" cy="454.4" r="2.6"/><circle cx="196.9" cy="456.25" r="2.6"/><circle cx="203.75" cy="459.4" r="2.6"/><circle cx="199.75" cy="459" r="2.6"/><circle cx="193.5" cy="461" r="2.6"/><circle cx="198.5" cy="466.5" r="2.6"/><circle cx="200" cy="472.75" r="2.6"/><circle cx="193.5" cy="474.75" r="2.6"/><circle cx="196.9" cy="477.5" r="2.6"/><circle cx="203.75" cy="479" r="2.6"/><circle cx="193.5" cy="481.25" r="2.6"/><circle cx="199.75" cy="480.6" r="2.6"/><circle cx="198.5" cy="482.5" r="2.6"/></g>
<text x="214.875" y="387.9" font-size="10.6" text-anchor="middle" font-weight="normal" font-style="italic" fill="#111" stroke="#111" stroke-width="0.2" textLength="51.25" lengthAdjust="spacingAndGlyphs">Intracellular</text>
<line x1="189.25" y1="389.3" x2="240.5" y2="389.3" stroke="#111" stroke-width="0.8"/>
<line x1="312.0" y1="395.8" x2="312.0" y2="509.1" stroke="#111111" stroke-width="1.45"/>
<line x1="311.4" y1="508.5" x2="378.75" y2="508.5" stroke="#111111" stroke-width="1.45"/>
<line x1="309.0" y1="508.5" x2="312.0" y2="508.5" stroke="#111111" stroke-width="1.1"/>
<text x="305.7" y="511.5" font-size="9.4" text-anchor="end" font-weight="normal" font-style="normal" fill="#111" stroke="#111" stroke-width="0.12">0</text>
<line x1="309.0" y1="481.2" x2="312.0" y2="481.2" stroke="#111111" stroke-width="1.1"/>
<text x="305.7" y="484.2" font-size="9.4" text-anchor="end" font-weight="normal" font-style="normal" fill="#111" stroke="#111" stroke-width="0.12">5</text>
<line x1="309.0" y1="453.9" x2="312.0" y2="453.9" stroke="#111111" stroke-width="1.1"/>
<text x="305.7" y="456.9" font-size="9.4" text-anchor="end" font-weight="normal" font-style="normal" fill="#111" stroke="#111" stroke-width="0.12">10</text>
<line x1="309.0" y1="426.6" x2="312.0" y2="426.6" stroke="#111111" stroke-width="1.1"/>
<text x="305.7" y="429.6" font-size="9.4" text-anchor="end" font-weight="normal" font-style="normal" fill="#111" stroke="#111" stroke-width="0.12">15</text>
<line x1="309.0" y1="399.3" x2="312.0" y2="399.3" stroke="#111111" stroke-width="1.1"/>
<text x="305.7" y="402.3" font-size="9.4" text-anchor="end" font-weight="normal" font-style="normal" fill="#111" stroke="#111" stroke-width="0.12">20</text>
<line x1="327.5" y1="508.5" x2="327.5" y2="511.7" stroke="#111111" stroke-width="1.0"/>
<line x1="348" y1="508.5" x2="348" y2="511.7" stroke="#111111" stroke-width="1.0"/>
<line x1="368" y1="508.5" x2="368" y2="511.7" stroke="#111111" stroke-width="1.0"/>
<text x="327.5" y="522.7" font-size="8.2" text-anchor="middle" font-weight="normal" font-style="normal" fill="#111" stroke="#111" stroke-width="0.12">1</text>
<text x="348" y="522.7" font-size="8.2" text-anchor="middle" font-weight="normal" font-style="normal" fill="#111" stroke="#111" stroke-width="0.12">2</text>
<text x="368" y="522.7" font-size="8.2" text-anchor="middle" font-weight="normal" font-style="normal" fill="#111" stroke="#111" stroke-width="0.12">3</text>
<text x="0" y="0" font-size="10.4" text-anchor="middle" fill="#111" stroke="#111" stroke-width="0.18" textLength="44.8" lengthAdjust="spacingAndGlyphs" transform="translate(290.3,452.5) rotate(-90)">IL-10 (pg/mL)</text>
<polyline points="326.25,406.25 326.25,403 369.5,403 369.5,406.25" fill="none" stroke="#222" stroke-width="1.1"/>
<text x="347.875" y="402.5" font-size="8.2" text-anchor="middle" font-weight="normal" font-style="normal" fill="#111" stroke="#111" stroke-width="0.12">*</text>
<polyline points="326.25,418.25 326.25,415 348,415 348,418.25" fill="none" stroke="#222" stroke-width="1.1"/>
<text x="337.125" y="414.5" font-size="8.2" text-anchor="middle" font-weight="normal" font-style="normal" fill="#111" stroke="#111" stroke-width="0.12">*</text>
<line x1="319.75" y1="458.4" x2="335.5" y2="458.4" stroke="#111111" stroke-width="1.15"/>
<line x1="343.25" y1="473.5" x2="353.25" y2="473.5" stroke="#111111" stroke-width="1.15"/>
<line x1="360.75" y1="469.4" x2="376" y2="469.4" stroke="#111111" stroke-width="1.15"/>
<line x1="327.6" y1="453.1" x2="327.6" y2="463.5" stroke="#a8062f" stroke-width="0.8"/>
<line x1="323.9" y1="453.1" x2="331.75" y2="453.1" stroke="#a8062f" stroke-width="0.8"/>
<line x1="323.9" y1="463.5" x2="331.75" y2="463.5" stroke="#a8062f" stroke-width="0.8"/>
<line x1="347.6" y1="471.5" x2="347.6" y2="475.5" stroke="#a8062f" stroke-width="0.8"/>
<line x1="344.5" y1="471.5" x2="351" y2="471.5" stroke="#a8062f" stroke-width="0.8"/>
<line x1="344.5" y1="475.5" x2="351" y2="475.5" stroke="#a8062f" stroke-width="0.8"/>
<line x1="368.25" y1="467" x2="368.25" y2="472" stroke="#a8062f" stroke-width="0.8"/>
<line x1="364.5" y1="467" x2="372" y2="467" stroke="#a8062f" stroke-width="0.8"/>
<line x1="364.5" y1="472" x2="372" y2="472" stroke="#a8062f" stroke-width="0.8"/>
<g fill="#a8062f"><circle cx="327.6" cy="426" r="1.8"/><circle cx="334.25" cy="440.6" r="1.8"/><circle cx="321.4" cy="446" r="1.8"/><circle cx="327.6" cy="443.5" r="1.8"/><circle cx="334.25" cy="445.6" r="1.8"/><circle cx="327.6" cy="450" r="1.8"/><circle cx="327.6" cy="466" r="1.8"/><circle cx="324.9" cy="469.6" r="1.8"/><circle cx="330.5" cy="470.9" r="1.8"/><circle cx="324.9" cy="473.75" r="1.8"/><circle cx="327.6" cy="479.4" r="1.8"/><circle cx="327.6" cy="488.75" r="1.8"/><circle cx="345.1" cy="464.6" r="1.8"/><circle cx="351" cy="464" r="1.8"/><circle cx="341.6" cy="470" r="1.8"/><circle cx="346" cy="471" r="1.8"/><circle cx="350.1" cy="469" r="1.8"/><circle cx="354.5" cy="472.5" r="1.8"/><circle cx="341.6" cy="474" r="1.8"/><circle cx="349.5" cy="473.1" r="1.8"/><circle cx="354.5" cy="476.9" r="1.8"/><circle cx="341.6" cy="478.75" r="1.8"/><circle cx="350.1" cy="478.1" r="1.8"/><circle cx="347.6" cy="488.75" r="1.8"/><circle cx="368.25" cy="455.4" r="1.8"/><circle cx="371.4" cy="461.9" r="1.8"/><circle cx="368.25" cy="463.1" r="1.8"/><circle cx="365.1" cy="465" r="1.8"/><circle cx="361.75" cy="467.9" r="1.8"/><circle cx="367" cy="470.6" r="1.8"/><circle cx="371.4" cy="471.25" r="1.8"/><circle cx="361.75" cy="473.1" r="1.8"/><circle cx="365.75" cy="474" r="1.8"/><circle cx="374.5" cy="473.75" r="1.8"/><circle cx="371.4" cy="475.4" r="1.8"/><circle cx="365.1" cy="478.5" r="1.8"/></g>
<text x="345.625" y="387.9" font-size="10.6" text-anchor="middle" font-weight="normal" font-style="italic" fill="#111" stroke="#111" stroke-width="0.2" textLength="53.75" lengthAdjust="spacingAndGlyphs">Extracellular</text>
<line x1="318.75" y1="389.3" x2="372.5" y2="389.3" stroke="#111" stroke-width="0.8"/>
<line x1="447" y1="397.5" x2="447" y2="509.1" stroke="#111111" stroke-width="1.45"/>
<line x1="446.4" y1="508.5" x2="512" y2="508.5" stroke="#111111" stroke-width="1.45"/>
<line x1="444" y1="508.5" x2="447" y2="508.5" stroke="#111111" stroke-width="1.1"/>
<text x="440.7" y="511.5" font-size="9.4" text-anchor="end" font-weight="normal" font-style="normal" fill="#111" stroke="#111" stroke-width="0.12">0</text>
<line x1="444" y1="472.35" x2="447" y2="472.35" stroke="#111111" stroke-width="1.1"/>
<text x="440.7" y="475.35" font-size="9.4" text-anchor="end" font-weight="normal" font-style="normal" fill="#111" stroke="#111" stroke-width="0.12">5</text>
<line x1="444" y1="436.2" x2="447" y2="436.2" stroke="#111111" stroke-width="1.1"/>
<text x="440.7" y="439.2" font-size="9.4" text-anchor="end" font-weight="normal" font-style="normal" fill="#111" stroke="#111" stroke-width="0.12">10</text>
<line x1="444" y1="400.05" x2="447" y2="400.05" stroke="#111111" stroke-width="1.1"/>
<text x="440.7" y="403.05" font-size="9.4" text-anchor="end" font-weight="normal" font-style="normal" fill="#111" stroke="#111" stroke-width="0.12">15</text>
<line x1="462" y1="508.5" x2="462" y2="511.7" stroke="#111111" stroke-width="1.0"/>
<line x1="479.25" y1="508.5" x2="479.25" y2="511.7" stroke="#111111" stroke-width="1.0"/>
<line x1="496.25" y1="508.5" x2="496.25" y2="511.7" stroke="#111111" stroke-width="1.0"/>
<text x="462" y="522.7" font-size="8.2" text-anchor="middle" font-weight="normal" font-style="normal" fill="#111" stroke="#111" stroke-width="0.12">1</text>
<text x="479.25" y="522.7" font-size="8.2" text-anchor="middle" font-weight="normal" font-style="normal" fill="#111" stroke="#111" stroke-width="0.12">2</text>
<text x="496.25" y="522.7" font-size="8.2" text-anchor="middle" font-weight="normal" font-style="normal" fill="#111" stroke="#111" stroke-width="0.12">3</text>
<text x="0" y="0" font-size="10.4" text-anchor="middle" fill="#111" stroke="#111" stroke-width="0.18" textLength="56.8" lengthAdjust="spacingAndGlyphs" transform="translate(425.3,452.75) rotate(-90)">IL-10 (% positive)</text>
<polyline points="462.5,421.25 462.5,418 497.5,418 497.5,421.25" fill="none" stroke="#222" stroke-width="1.1"/>
<text x="480.0" y="417.5" font-size="8.2" text-anchor="middle" font-weight="normal" font-style="normal" fill="#111" stroke="#111" stroke-width="0.12">*</text>
<polyline points="462.5,433.75 462.5,430.5 480,430.5 480,433.75" fill="none" stroke="#222" stroke-width="1.1"/>
<text x="471.25" y="430.0" font-size="8.2" text-anchor="middle" font-weight="normal" font-style="normal" fill="#111" stroke="#111" stroke-width="0.12">*</text>
<line x1="459.4" y1="453.5" x2="470" y2="453.5" stroke="#111111" stroke-width="1.15"/>
<line x1="472.25" y1="486.25" x2="487.25" y2="486.25" stroke="#111111" stroke-width="1.15"/>
<line x1="489" y1="479.6" x2="504.4" y2="479.6" stroke="#111111" stroke-width="1.15"/>
<line x1="462.5" y1="451.5" x2="462.5" y2="455.5" stroke="#b52a50" stroke-width="0.8"/>
<line x1="459" y1="451.5" x2="466" y2="451.5" stroke="#b52a50" stroke-width="0.8"/>
<line x1="459" y1="455.5" x2="466" y2="455.5" stroke="#b52a50" stroke-width="0.8"/>
<line x1="479.6" y1="484.5" x2="479.6" y2="488" stroke="#b52a50" stroke-width="0.8"/>
<line x1="476.5" y1="484.5" x2="483" y2="484.5" stroke="#b52a50" stroke-width="0.8"/>
<line x1="476.5" y1="488" x2="483" y2="488" stroke="#b52a50" stroke-width="0.8"/>
<line x1="496.5" y1="478" x2="496.5" y2="481" stroke="#b52a50" stroke-width="0.8"/>
<line x1="493" y1="478" x2="500" y2="478" stroke="#b52a50" stroke-width="0.8"/>
<line x1="493" y1="481" x2="500" y2="481" stroke="#b52a50" stroke-width="0.8"/>
<g fill="#a8062f"><circle cx="462.5" cy="441.9" r="2.4"/><circle cx="456.9" cy="447.5" r="2.4"/><circle cx="460.6" cy="447.5" r="2.4"/><circle cx="468.75" cy="446.25" r="2.4"/><circle cx="456.9" cy="452.5" r="2.4"/><circle cx="465" cy="452.25" r="2.4"/><circle cx="468.75" cy="451.5" r="2.4"/><circle cx="456.9" cy="459" r="2.4"/><circle cx="460.6" cy="459" r="2.4"/><circle cx="464.75" cy="461.25" r="2.4"/><circle cx="468.75" cy="460" r="2.4"/><circle cx="456.9" cy="463.5" r="2.4"/><circle cx="479.6" cy="473.5" r="2.4"/><circle cx="476.5" cy="483.1" r="2.4"/><circle cx="482.75" cy="482.25" r="2.4"/><circle cx="479.4" cy="485" r="2.4"/><circle cx="475" cy="487.5" r="2.4"/><circle cx="485.6" cy="488.75" r="2.4"/><circle cx="473.75" cy="490.6" r="2.4"/><circle cx="479.4" cy="488.75" r="2.4"/><circle cx="483.1" cy="492.5" r="2.4"/><circle cx="477.5" cy="490" r="2.4"/><circle cx="490.6" cy="473.5" r="2.4"/><circle cx="496.5" cy="473.1" r="2.4"/><circle cx="502.5" cy="472.75" r="2.4"/><circle cx="496.5" cy="477.25" r="2.4"/><circle cx="491.25" cy="481.25" r="2.4"/><circle cx="495" cy="480.6" r="2.4"/><circle cx="500" cy="480.6" r="2.4"/><circle cx="502.5" cy="481.5" r="2.4"/><circle cx="497.5" cy="483.1" r="2.4"/></g>
<text x="479.625" y="387.9" font-size="10.6" text-anchor="middle" font-weight="normal" font-style="italic" fill="#111" stroke="#111" stroke-width="0.2" textLength="51.75" lengthAdjust="spacingAndGlyphs">Intracellular</text>
<line x1="453.75" y1="389.3" x2="505.5" y2="389.3" stroke="#111" stroke-width="0.8"/>
<text x="8" y="18.3" font-size="12.2" text-anchor="start" font-weight="bold" font-style="normal" fill="#000" stroke="#000" stroke-width="0.45">A</text>
<text x="138.75" y="18.3" font-size="12.2" text-anchor="start" font-weight="bold" font-style="normal" fill="#000" stroke="#000" stroke-width="0.45">B</text>
<text x="267" y="18.3" font-size="12.2" text-anchor="start" font-weight="bold" font-style="normal" fill="#000" stroke="#000" stroke-width="0.45">C</text>
<text x="397" y="18.3" font-size="12.2" text-anchor="start" font-weight="bold" font-style="normal" fill="#000" stroke="#000" stroke-width="0.45">D</text>
<text x="8" y="189.8" font-size="12.2" text-anchor="start" font-weight="bold" font-style="normal" fill="#000" stroke="#000" stroke-width="0.45">E</text>
<text x="138.75" y="189.8" font-size="12.2" text-anchor="start" font-weight="bold" font-style="normal" fill="#000" stroke="#000" stroke-width="0.45">F</text>
<text x="267" y="189.8" font-size="12.2" text-anchor="start" font-weight="bold" font-style="normal" fill="#000" stroke="#000" stroke-width="0.45">G</text>
<text x="397" y="189.8" font-size="12.2" text-anchor="start" font-weight="bold" font-style="normal" fill="#000" stroke="#000" stroke-width="0.45">H</text>
<text x="8" y="373.2" font-size="12.2" text-anchor="start" font-weight="bold" font-style="normal" fill="#000" stroke="#000" stroke-width="0.45">I</text>
<text x="137.5" y="373.2" font-size="12.2" text-anchor="start" font-weight="bold" font-style="normal" fill="#000" stroke="#000" stroke-width="0.45">J</text>
<text x="267" y="373.2" font-size="12.2" text-anchor="start" font-weight="bold" font-style="normal" fill="#000" stroke="#000" stroke-width="0.45">K</text>
<text x="397" y="373.2" font-size="12.2" text-anchor="start" font-weight="bold" font-style="normal" fill="#000" stroke="#000" stroke-width="0.45">L</text>
<rect x="173" y="154.25" width="17.5" height="6.25" fill="#1e3e82"/>
<text x="194.25" y="159.9" font-size="9.0" text-anchor="start" font-weight="normal" font-style="normal" fill="#111" stroke="#111" stroke-width="0.15" textLength="55" lengthAdjust="spacingAndGlyphs">Healthy donors</text>
<rect x="266.25" y="154.25" width="17.5" height="6.25" fill="#a8062f"/>
<text x="287" y="159.9" font-size="9.0" text-anchor="start" font-weight="normal" font-style="normal" fill="#111" stroke="#111" stroke-width="0.15" textLength="32.5" lengthAdjust="spacingAndGlyphs">CLL Pts.</text>
<rect x="155" y="337.5" width="18" height="6.75" fill="#1e3e82"/>
<text x="176.25" y="344" font-size="9.0" text-anchor="start" font-weight="normal" font-style="normal" fill="#111" stroke="#111" stroke-width="0.15" textLength="63" lengthAdjust="spacingAndGlyphs">CD38+ CLL Pts.</text>
<rect x="256.25" y="337.5" width="17.5" height="6.75" fill="#a8062f"/>
<text x="277" y="344" font-size="9.0" text-anchor="start" font-weight="normal" font-style="normal" fill="#111" stroke="#111" stroke-width="0.15" textLength="60" lengthAdjust="spacingAndGlyphs">CD38- CLL Pts.</text>
<text x="165" y="542.6" font-size="9.0" text-anchor="start" font-weight="normal" font-style="normal" fill="#111" stroke="#111" stroke-width="0.15" textLength="56.25" lengthAdjust="spacingAndGlyphs">1: No treatment</text>
<text x="233.75" y="542.6" font-size="9.0" text-anchor="start" font-weight="normal" font-style="normal" fill="#111" stroke="#111" stroke-width="0.15" textLength="60" lengthAdjust="spacingAndGlyphs">2: Daratumumab</text>
<text x="307.5" y="542.6" font-size="9.0" text-anchor="start" font-weight="normal" font-style="normal" fill="#111" stroke="#111" stroke-width="0.15" textLength="48" lengthAdjust="spacingAndGlyphs">3: Kuromanin</text>
<rect x="0" y="0" width="520" height="1.2" fill="#000"/><rect x="0" y="0" width="1.3" height="552" fill="#000"/><rect x="518.8" y="0" width="1.2" height="552" fill="#000"/><rect x="0" y="550.5" width="520" height="1.5" fill="#000"/>
</svg></body></html>
